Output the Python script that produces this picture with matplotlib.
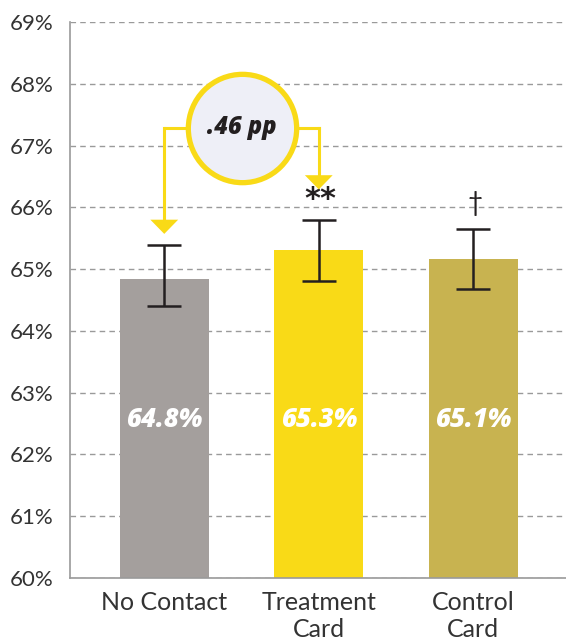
import matplotlib
matplotlib.use("Agg")
import matplotlib.pyplot as plt
import numpy as np

categories = ["No Contact", "Treatment\nCard", "Control\nCard"]
values = [64.84, 65.31, 65.16]
err_low = [64.40, 64.80, 64.68]
err_high = [65.39, 65.79, 65.65]
value_labels = ["64.8%", "65.3%", "65.1%"]
marks = ["", "**", "\u2020"]
diff_label = ".46 pp"
colors = ["#A49F9D", "#F9DA17", "#C8B350"]
yellow = "#F9DA17"

plt.rcParams["font.family"] = ["Lato", "DejaVu Sans"]
heavy = ["Open Sans", "DejaVu Sans"]

fig = plt.figure(figsize=(5.66, 6.41), dpi=100)
ax = fig.add_axes([70 / 566, 63 / 641, 1 - 70 / 566, 556 / 641])

x = np.arange(len(categories))
ax.bar(x, values, width=0.575, color=colors, zorder=2)

v = np.array(values)
yerr = [v - np.array(err_low), np.array(err_high) - v]
ax.errorbar(x, values, yerr=yerr, fmt="none", ecolor="#231F20",
            elinewidth=1.8, capsize=12, capthick=1.8, zorder=3)

for xi, lab in zip(x, value_labels):
    ax.text(xi, 62.56, lab, ha="center", va="center", color="white",
            fontsize=18.5, fontweight="heavy", fontstyle="italic",
            family=heavy, zorder=4)

ax.text(x[1] + 0.01, err_high[1] + 0.33, marks[1], ha="center", va="center",
        color="#231F20", fontsize=22, fontweight="bold",
        family=["DejaVu Sans"], zorder=4)
ax.text(x[2] + 0.01, err_high[2] + 0.42, marks[2], ha="center", va="center",
        color="#231F20", fontsize=19, zorder=4)

ax.set_xlim(-0.61, 2.6)
ax.set_ylim(60, 69)
ax.set_yticks(np.arange(60, 70, 1))
ax.set_yticklabels([f"{t}%" for t in range(60, 70)])
ax.set_xticks(x)
ax.set_xticklabels(categories, linespacing=1.25)
ax.tick_params(axis="both", length=0, labelcolor="#333333")
ax.tick_params(axis="y", pad=12, labelsize=16)
ax.tick_params(axis="x", pad=9, labelsize=18)

ax.grid(axis="y", linestyle=(0, (4, 3)), color="#9a9a9a", linewidth=1.0, zorder=0)
ax.set_axisbelow(True)
for s in ["top", "right"]:
    ax.spines[s].set_visible(False)
for s in ["left", "bottom"]:
    ax.spines[s].set_color("#9a9a9a")
    ax.spines[s].set_linewidth(1.2)

# difference callout between No Contact and Treatment Card
cx = (x[0] + x[1]) / 2
cy = 67.29
left_tip = 65.57
right_tip = 66.29
tri_w = 0.09
tri_h = 0.23
ax.plot([x[0], cx], [cy, cy], color=yellow, lw=2.2, zorder=5, solid_capstyle="butt")
ax.plot([x[0], x[0]], [cy, left_tip + tri_h], color=yellow, lw=2.2, zorder=5)
ax.fill([x[0] - tri_w, x[0] + tri_w, x[0]],
        [left_tip + tri_h, left_tip + tri_h, left_tip], color=yellow, lw=0, zorder=5)
ax.plot([cx, x[1]], [cy, cy], color=yellow, lw=2.2, zorder=5)
ax.plot([x[1], x[1]], [cy, right_tip + tri_h], color=yellow, lw=2.2, zorder=5)
ax.fill([x[1] - tri_w, x[1] + tri_w, x[1]],
        [right_tip + tri_h, right_tip + tri_h, right_tip], color=yellow, lw=0, zorder=5)
ax.plot([cx], [cy], marker="o", markersize=78, markerfacecolor="#EEEFF7",
        markeredgecolor=yellow, markeredgewidth=3.8, zorder=6, clip_on=False)
ax.text(cx, cy, diff_label, ha="center", va="center", fontsize=17,
        fontweight="heavy", fontstyle="italic", family=heavy,
        color="#231F20", zorder=7)

fig.savefig("out.png", dpi=100)
